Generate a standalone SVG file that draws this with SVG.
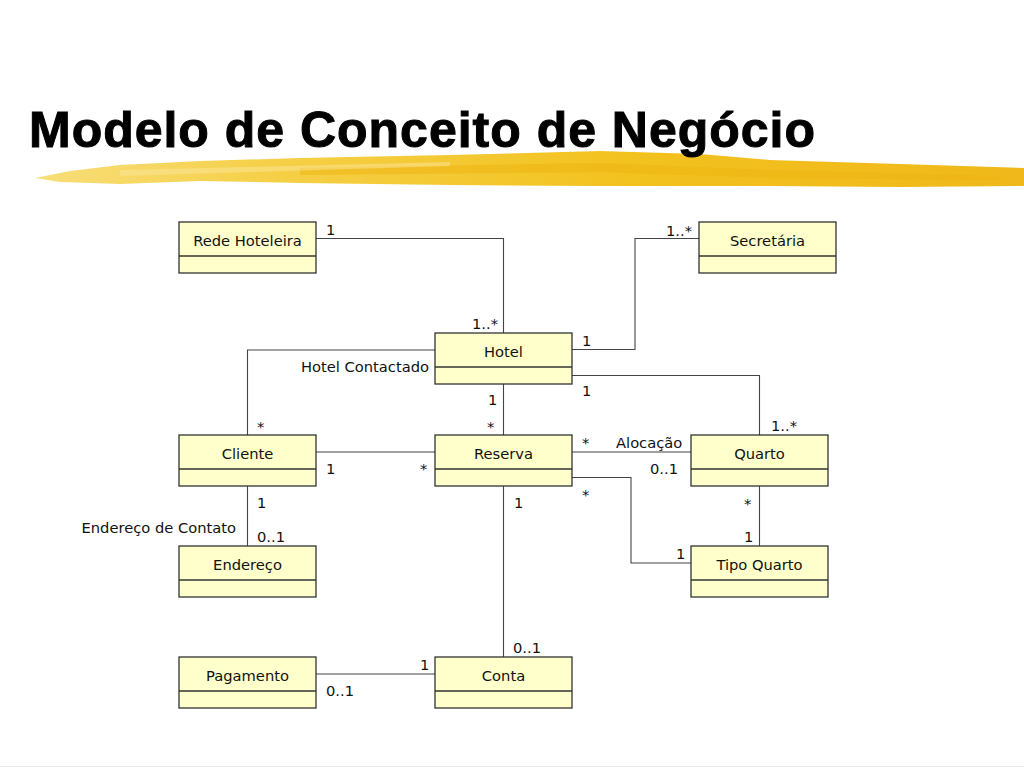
<svg xmlns="http://www.w3.org/2000/svg" width="1024" height="768" viewBox="0 0 1024 768">
<defs>
<linearGradient id="brush" x1="0" y1="0" x2="1" y2="0">
<stop offset="0" stop-color="#f8de7a"/>
<stop offset="0.25" stop-color="#f5cf45"/>
<stop offset="0.6" stop-color="#f2c21f"/>
<stop offset="1" stop-color="#f0b81a"/>
</linearGradient>
<style>
.node rect{fill:#ffffcc;stroke:#333;stroke-width:1.3}
.node line{stroke:#333;stroke-width:1.3}
.name{font-family:"DejaVu Sans",Verdana,sans-serif;font-size:14.7px;fill:#111;text-anchor:middle}
.lbl{font-family:"DejaVu Sans",Verdana,sans-serif;font-size:14.7px;fill:#111}
.end{text-anchor:end}
#connectors path{fill:none;stroke:#444;stroke-width:1.1}
</style>
</defs>
<rect width="1024" height="768" fill="#fff"/>
<g id="title">
<path d="M35,178 L70,171 L120,165 L200,161 L300,158 L450,155 L600,151 L700,154 L770,160 L900,164 L1024,168 L1024,186 L900,187 L770,186 L600,186 L450,185 L300,183 L200,181 L120,184 L60,182 Z" fill="url(#brush)"/>
<path d="M300,168 L600,163 L770,170 L1000,176 L1000,180 L770,178 L600,172 L300,175 Z" fill="#eeb410" opacity="0.5"/>
<path d="M120,170 L450,162 L450,166 L120,176 Z" fill="#fbe69a" opacity="0.5"/>
<text x="29" y="147" font-family="'Liberation Sans',Arial,sans-serif" font-weight="bold" font-size="50" textLength="786" lengthAdjust="spacing" fill="#000" stroke="#000" stroke-width="1">Modelo de Conceito de Negócio</text>
</g>
<g id="connectors">
<path d="M316,238.5 H503.5 V333"/>
<path d="M572,349.5 H635 V238.5 H699"/>
<path d="M435,350 H247.5 V435"/>
<path d="M572,375.5 H759.5 V435"/>
<path d="M503.5,384 V435"/>
<path d="M316,452 H435"/>
<path d="M572,452 H691"/>
<path d="M572,477.5 H631 V563 H691"/>
<path d="M759.5,486 V546"/>
<path d="M247.5,486 V546"/>
<path d="M503.5,486 V657"/>
<path d="M316,674 H435"/>
</g>
<g id="labels">
<text class="lbl" x="326" y="235">1</text>
<text class="lbl end" x="498" y="329">1..*</text>
<text class="lbl end" x="429" y="372">Hotel Contactado</text>
<text class="lbl" x="582" y="346">1</text>
<text class="lbl end" x="692" y="236">1..*</text>
<text class="lbl" x="582" y="396">1</text>
<text class="lbl" x="771" y="431">1..*</text>
<text class="lbl" x="488" y="405">1</text>
<text class="lbl" x="487" y="432">*</text>
<text class="lbl" x="257" y="432">*</text>
<text class="lbl" x="326" y="474">1</text>
<text class="lbl" x="420" y="474">*</text>
<text class="lbl" x="582" y="448">*</text>
<text class="lbl" x="616" y="448">Alocação</text>
<text class="lbl" x="650" y="474">0..1</text>
<text class="lbl" x="582" y="500">*</text>
<text class="lbl" x="514" y="508">1</text>
<text class="lbl" x="744" y="509">*</text>
<text class="lbl" x="744" y="542">1</text>
<text class="lbl" x="676" y="559">1</text>
<text class="lbl" x="257" y="508">1</text>
<text class="lbl end" x="236" y="533">Endereço de Contato</text>
<text class="lbl" x="257" y="542">0..1</text>
<text class="lbl" x="513" y="653">0..1</text>
<text class="lbl" x="420" y="670">1</text>
<text class="lbl" x="326" y="696">0..1</text>
</g>
<g id="rede-hoteleira" class="node"><rect x="179" y="222" width="137" height="51"/><line x1="179" y1="256" x2="316" y2="256"/><text class="name" x="247.5" y="246">Rede Hoteleira</text></g>
<g id="secretaria" class="node"><rect x="699" y="222" width="137" height="51"/><line x1="699" y1="256" x2="836" y2="256"/><text class="name" x="767.5" y="246">Secretária</text></g>
<g id="hotel" class="node"><rect x="435" y="333" width="137" height="51"/><line x1="435" y1="367" x2="572" y2="367"/><text class="name" x="503.5" y="357">Hotel</text></g>
<g id="cliente" class="node"><rect x="179" y="435" width="137" height="51"/><line x1="179" y1="469" x2="316" y2="469"/><text class="name" x="247.5" y="459">Cliente</text></g>
<g id="reserva" class="node"><rect x="435" y="435" width="137" height="51"/><line x1="435" y1="469" x2="572" y2="469"/><text class="name" x="503.5" y="459">Reserva</text></g>
<g id="quarto" class="node"><rect x="691" y="435" width="137" height="51"/><line x1="691" y1="469" x2="828" y2="469"/><text class="name" x="759.5" y="459">Quarto</text></g>
<g id="endereco" class="node"><rect x="179" y="546" width="137" height="51"/><line x1="179" y1="580" x2="316" y2="580"/><text class="name" x="247.5" y="570">Endereço</text></g>
<g id="tipo-quarto" class="node"><rect x="691" y="546" width="137" height="51"/><line x1="691" y1="580" x2="828" y2="580"/><text class="name" x="759.5" y="570">Tipo Quarto</text></g>
<g id="pagamento" class="node"><rect x="179" y="657" width="137" height="51"/><line x1="179" y1="691" x2="316" y2="691"/><text class="name" x="247.5" y="681">Pagamento</text></g>
<g id="conta" class="node"><rect x="435" y="657" width="137" height="51"/><line x1="435" y1="691" x2="572" y2="691"/><text class="name" x="503.5" y="681">Conta</text></g>
<line x1="0" y1="766.5" x2="1024" y2="766.5" stroke="#e8e8e8" stroke-width="1"/>
</svg>
